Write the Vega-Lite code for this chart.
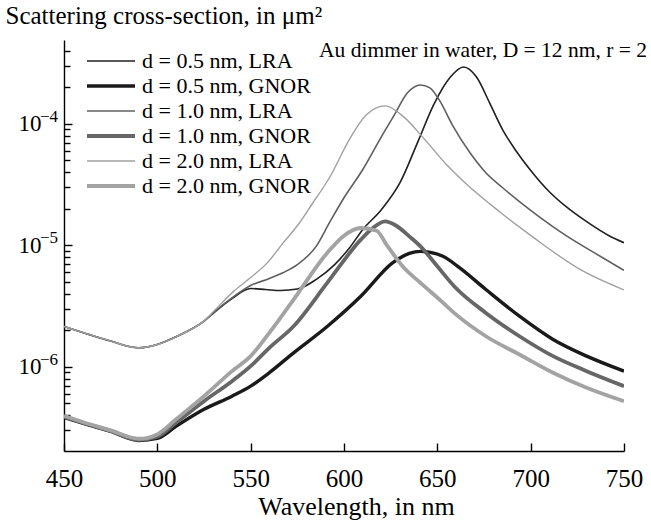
{
  "$schema": "https://vega.github.io/schema/vega-lite/v6.json",
  "width": 560,
  "height": 411,
  "autosize": {"type": "none"},
  "padding": {"left": 64, "top": 40, "right": 27, "bottom": 69},
  "background": "white",
  "config": {
    "view": {"stroke": null},
    "font": "Liberation Serif",
    "axis": {"grid": false, "domainColor": "black", "domainWidth": 1.4, "tickColor": "black", "tickWidth": 1.4, "labelColor": "black", "titleColor": "black", "labelFont": "Liberation Serif", "titleFont": "Liberation Serif", "titleFontWeight": "normal", "labelOverlap": false, "labelFlush": false}
  },
  "datasets": {
    "curves": [
      {"series": "d = 0.5 nm, LRA", "wl": 450, "sigma": 2.15e-6},
      {"series": "d = 0.5 nm, LRA", "wl": 460, "sigma": 1.92e-6},
      {"series": "d = 0.5 nm, LRA", "wl": 475, "sigma": 1.63e-6},
      {"series": "d = 0.5 nm, LRA", "wl": 490, "sigma": 1.435e-6},
      {"series": "d = 0.5 nm, LRA", "wl": 500, "sigma": 1.528e-6},
      {"series": "d = 0.5 nm, LRA", "wl": 510, "sigma": 1.767e-6},
      {"series": "d = 0.5 nm, LRA", "wl": 525, "sigma": 2.376e-6},
      {"series": "d = 0.5 nm, LRA", "wl": 531, "sigma": 2.85e-6},
      {"series": "d = 0.5 nm, LRA", "wl": 540, "sigma": 3.65e-6},
      {"series": "d = 0.5 nm, LRA", "wl": 550, "sigma": 4.41e-6},
      {"series": "d = 0.5 nm, LRA", "wl": 558, "sigma": 4.33e-6},
      {"series": "d = 0.5 nm, LRA", "wl": 566, "sigma": 4.25e-6},
      {"series": "d = 0.5 nm, LRA", "wl": 575, "sigma": 4.37e-6},
      {"series": "d = 0.5 nm, LRA", "wl": 585, "sigma": 5.23e-6},
      {"series": "d = 0.5 nm, LRA", "wl": 595, "sigma": 6.94e-6},
      {"series": "d = 0.5 nm, LRA", "wl": 603, "sigma": 9.57e-6},
      {"series": "d = 0.5 nm, LRA", "wl": 610, "sigma": 1.346e-5},
      {"series": "d = 0.5 nm, LRA", "wl": 620, "sigma": 1.965e-5},
      {"series": "d = 0.5 nm, LRA", "wl": 630, "sigma": 3.28e-5},
      {"series": "d = 0.5 nm, LRA", "wl": 640, "sigma": 7.39e-5},
      {"series": "d = 0.5 nm, LRA", "wl": 648, "sigma": 1.432e-4},
      {"series": "d = 0.5 nm, LRA", "wl": 657, "sigma": 2.43e-4},
      {"series": "d = 0.5 nm, LRA", "wl": 664, "sigma": 2.94e-4},
      {"series": "d = 0.5 nm, LRA", "wl": 671, "sigma": 2.43e-4},
      {"series": "d = 0.5 nm, LRA", "wl": 678, "sigma": 1.488e-4},
      {"series": "d = 0.5 nm, LRA", "wl": 685, "sigma": 8.93e-5},
      {"series": "d = 0.5 nm, LRA", "wl": 692.5, "sigma": 5.89e-5},
      {"series": "d = 0.5 nm, LRA", "wl": 701, "sigma": 3.96e-5},
      {"series": "d = 0.5 nm, LRA", "wl": 710, "sigma": 2.76e-5},
      {"series": "d = 0.5 nm, LRA", "wl": 719, "sigma": 2.08e-5},
      {"series": "d = 0.5 nm, LRA", "wl": 730, "sigma": 1.566e-5},
      {"series": "d = 0.5 nm, LRA", "wl": 742, "sigma": 1.2e-5},
      {"series": "d = 0.5 nm, LRA", "wl": 750, "sigma": 1.052e-5},

      {"series": "d = 0.5 nm, GNOR", "wl": 450, "sigma": 3.84e-7},
      {"series": "d = 0.5 nm, GNOR", "wl": 460, "sigma": 3.44e-7},
      {"series": "d = 0.5 nm, GNOR", "wl": 475, "sigma": 2.94e-7},
      {"series": "d = 0.5 nm, GNOR", "wl": 490, "sigma": 2.48e-7},
      {"series": "d = 0.5 nm, GNOR", "wl": 500, "sigma": 2.58e-7},
      {"series": "d = 0.5 nm, GNOR", "wl": 510, "sigma": 3.24e-7},
      {"series": "d = 0.5 nm, GNOR", "wl": 525, "sigma": 4.47e-7},
      {"series": "d = 0.5 nm, GNOR", "wl": 540, "sigma": 5.74e-7},
      {"series": "d = 0.5 nm, GNOR", "wl": 550, "sigma": 6.94e-7},
      {"series": "d = 0.5 nm, GNOR", "wl": 560, "sigma": 8.95e-7},
      {"series": "d = 0.5 nm, GNOR", "wl": 573, "sigma": 1.305e-6},
      {"series": "d = 0.5 nm, GNOR", "wl": 591, "sigma": 2.15e-6},
      {"series": "d = 0.5 nm, GNOR", "wl": 609, "sigma": 3.81e-6},
      {"series": "d = 0.5 nm, GNOR", "wl": 626, "sigma": 7.17e-6},
      {"series": "d = 0.5 nm, GNOR", "wl": 635, "sigma": 8.6e-6},
      {"series": "d = 0.5 nm, GNOR", "wl": 641, "sigma": 8.93e-6},
      {"series": "d = 0.5 nm, GNOR", "wl": 653, "sigma": 8.13e-6},
      {"series": "d = 0.5 nm, GNOR", "wl": 662, "sigma": 6.52e-6},
      {"series": "d = 0.5 nm, GNOR", "wl": 676, "sigma": 4.33e-6},
      {"series": "d = 0.5 nm, GNOR", "wl": 694, "sigma": 2.61e-6},
      {"series": "d = 0.5 nm, GNOR", "wl": 712, "sigma": 1.68e-6},
      {"series": "d = 0.5 nm, GNOR", "wl": 730, "sigma": 1.225e-6},
      {"series": "d = 0.5 nm, GNOR", "wl": 750, "sigma": 9.22e-7},

      {"series": "d = 1.0 nm, LRA", "wl": 450, "sigma": 2.15e-6},
      {"series": "d = 1.0 nm, LRA", "wl": 460, "sigma": 1.92e-6},
      {"series": "d = 1.0 nm, LRA", "wl": 475, "sigma": 1.63e-6},
      {"series": "d = 1.0 nm, LRA", "wl": 490, "sigma": 1.435e-6},
      {"series": "d = 1.0 nm, LRA", "wl": 500, "sigma": 1.528e-6},
      {"series": "d = 1.0 nm, LRA", "wl": 510, "sigma": 1.767e-6},
      {"series": "d = 1.0 nm, LRA", "wl": 525, "sigma": 2.376e-6},
      {"series": "d = 1.0 nm, LRA", "wl": 531, "sigma": 2.87e-6},
      {"series": "d = 1.0 nm, LRA", "wl": 540, "sigma": 3.7e-6},
      {"series": "d = 1.0 nm, LRA", "wl": 550, "sigma": 4.67e-6},
      {"series": "d = 1.0 nm, LRA", "wl": 560, "sigma": 5.33e-6},
      {"series": "d = 1.0 nm, LRA", "wl": 567.5, "sigma": 5.97e-6},
      {"series": "d = 1.0 nm, LRA", "wl": 575, "sigma": 6.94e-6},
      {"series": "d = 1.0 nm, LRA", "wl": 585, "sigma": 9.76e-6},
      {"series": "d = 1.0 nm, LRA", "wl": 592.5, "sigma": 1.566e-5},
      {"series": "d = 1.0 nm, LRA", "wl": 600, "sigma": 2.466e-5},
      {"series": "d = 1.0 nm, LRA", "wl": 610, "sigma": 4.19e-5},
      {"series": "d = 1.0 nm, LRA", "wl": 620, "sigma": 7.82e-5},
      {"series": "d = 1.0 nm, LRA", "wl": 627, "sigma": 1.186e-4},
      {"series": "d = 1.0 nm, LRA", "wl": 634, "sigma": 1.8e-4},
      {"series": "d = 1.0 nm, LRA", "wl": 641, "sigma": 2.09e-4},
      {"series": "d = 1.0 nm, LRA", "wl": 646, "sigma": 1.977e-4},
      {"series": "d = 1.0 nm, LRA", "wl": 651, "sigma": 1.575e-4},
      {"series": "d = 1.0 nm, LRA", "wl": 658, "sigma": 9.81e-5},
      {"series": "d = 1.0 nm, LRA", "wl": 667.5, "sigma": 5.78e-5},
      {"series": "d = 1.0 nm, LRA", "wl": 676, "sigma": 3.96e-5},
      {"series": "d = 1.0 nm, LRA", "wl": 685, "sigma": 2.98e-5},
      {"series": "d = 1.0 nm, LRA", "wl": 694, "sigma": 2.29e-5},
      {"series": "d = 1.0 nm, LRA", "wl": 705, "sigma": 1.7e-5},
      {"series": "d = 1.0 nm, LRA", "wl": 719, "sigma": 1.202e-5},
      {"series": "d = 1.0 nm, LRA", "wl": 734, "sigma": 8.71e-6},
      {"series": "d = 1.0 nm, LRA", "wl": 750, "sigma": 6.23e-6},

      {"series": "d = 1.0 nm, GNOR", "wl": 450, "sigma": 3.88e-7},
      {"series": "d = 1.0 nm, GNOR", "wl": 460, "sigma": 3.47e-7},
      {"series": "d = 1.0 nm, GNOR", "wl": 475, "sigma": 2.97e-7},
      {"series": "d = 1.0 nm, GNOR", "wl": 490, "sigma": 2.51e-7},
      {"series": "d = 1.0 nm, GNOR", "wl": 500, "sigma": 2.66e-7},
      {"series": "d = 1.0 nm, GNOR", "wl": 510, "sigma": 3.47e-7},
      {"series": "d = 1.0 nm, GNOR", "wl": 525, "sigma": 5.22e-7},
      {"series": "d = 1.0 nm, GNOR", "wl": 540, "sigma": 7.63e-7},
      {"series": "d = 1.0 nm, GNOR", "wl": 550, "sigma": 1.014e-6},
      {"series": "d = 1.0 nm, GNOR", "wl": 560, "sigma": 1.435e-6},
      {"series": "d = 1.0 nm, GNOR", "wl": 573, "sigma": 2.16e-6},
      {"series": "d = 1.0 nm, GNOR", "wl": 591, "sigma": 4.91e-6},
      {"series": "d = 1.0 nm, GNOR", "wl": 609, "sigma": 1.114e-5},
      {"series": "d = 1.0 nm, GNOR", "wl": 615, "sigma": 1.37e-5},
      {"series": "d = 1.0 nm, GNOR", "wl": 622, "sigma": 1.574e-5},
      {"series": "d = 1.0 nm, GNOR", "wl": 628, "sigma": 1.45e-5},
      {"series": "d = 1.0 nm, GNOR", "wl": 635, "sigma": 1.186e-5},
      {"series": "d = 1.0 nm, GNOR", "wl": 641, "sigma": 9.82e-6},
      {"series": "d = 1.0 nm, GNOR", "wl": 650, "sigma": 6.72e-6},
      {"series": "d = 1.0 nm, GNOR", "wl": 659, "sigma": 4.61e-6},
      {"series": "d = 1.0 nm, GNOR", "wl": 676, "sigma": 2.78e-6},
      {"series": "d = 1.0 nm, GNOR", "wl": 694, "sigma": 1.787e-6},
      {"series": "d = 1.0 nm, GNOR", "wl": 712, "sigma": 1.225e-6},
      {"series": "d = 1.0 nm, GNOR", "wl": 730, "sigma": 9.22e-7},
      {"series": "d = 1.0 nm, GNOR", "wl": 750, "sigma": 6.94e-7},

      {"series": "d = 2.0 nm, LRA", "wl": 450, "sigma": 2.15e-6},
      {"series": "d = 2.0 nm, LRA", "wl": 460, "sigma": 1.92e-6},
      {"series": "d = 2.0 nm, LRA", "wl": 475, "sigma": 1.63e-6},
      {"series": "d = 2.0 nm, LRA", "wl": 490, "sigma": 1.435e-6},
      {"series": "d = 2.0 nm, LRA", "wl": 500, "sigma": 1.528e-6},
      {"series": "d = 2.0 nm, LRA", "wl": 510, "sigma": 1.767e-6},
      {"series": "d = 2.0 nm, LRA", "wl": 525, "sigma": 2.39e-6},
      {"series": "d = 2.0 nm, LRA", "wl": 531, "sigma": 2.95e-6},
      {"series": "d = 2.0 nm, LRA", "wl": 541, "sigma": 4.2e-6},
      {"series": "d = 2.0 nm, LRA", "wl": 550, "sigma": 5.43e-6},
      {"series": "d = 2.0 nm, LRA", "wl": 559, "sigma": 7.21e-6},
      {"series": "d = 2.0 nm, LRA", "wl": 567.5, "sigma": 1.052e-5},
      {"series": "d = 2.0 nm, LRA", "wl": 576, "sigma": 1.52e-5},
      {"series": "d = 2.0 nm, LRA", "wl": 583, "sigma": 2.2e-5},
      {"series": "d = 2.0 nm, LRA", "wl": 592.5, "sigma": 3.67e-5},
      {"series": "d = 2.0 nm, LRA", "wl": 603, "sigma": 7.5e-5},
      {"series": "d = 2.0 nm, LRA", "wl": 612, "sigma": 1.186e-4},
      {"series": "d = 2.0 nm, LRA", "wl": 622, "sigma": 1.406e-4},
      {"series": "d = 2.0 nm, LRA", "wl": 632, "sigma": 1.141e-4},
      {"series": "d = 2.0 nm, LRA", "wl": 642.5, "sigma": 7.67e-5},
      {"series": "d = 2.0 nm, LRA", "wl": 655, "sigma": 4.6e-5},
      {"series": "d = 2.0 nm, LRA", "wl": 666, "sigma": 3.15e-5},
      {"series": "d = 2.0 nm, LRA", "wl": 684, "sigma": 1.857e-5},
      {"series": "d = 2.0 nm, LRA", "wl": 698, "sigma": 1.272e-5},
      {"series": "d = 2.0 nm, LRA", "wl": 705, "sigma": 1.06e-5},
      {"series": "d = 2.0 nm, LRA", "wl": 726, "sigma": 6.4e-6},
      {"series": "d = 2.0 nm, LRA", "wl": 750, "sigma": 4.3e-6},

      {"series": "d = 2.0 nm, GNOR", "wl": 450, "sigma": 3.95e-7},
      {"series": "d = 2.0 nm, GNOR", "wl": 460, "sigma": 3.52e-7},
      {"series": "d = 2.0 nm, GNOR", "wl": 475, "sigma": 3.0e-7},
      {"series": "d = 2.0 nm, GNOR", "wl": 490, "sigma": 2.56e-7},
      {"series": "d = 2.0 nm, GNOR", "wl": 500, "sigma": 2.78e-7},
      {"series": "d = 2.0 nm, GNOR", "wl": 510, "sigma": 3.7e-7},
      {"series": "d = 2.0 nm, GNOR", "wl": 525, "sigma": 5.74e-7},
      {"series": "d = 2.0 nm, GNOR", "wl": 540, "sigma": 9.22e-7},
      {"series": "d = 2.0 nm, GNOR", "wl": 550, "sigma": 1.225e-6},
      {"series": "d = 2.0 nm, GNOR", "wl": 560, "sigma": 1.905e-6},
      {"series": "d = 2.0 nm, GNOR", "wl": 573, "sigma": 3.58e-6},
      {"series": "d = 2.0 nm, GNOR", "wl": 591, "sigma": 8.66e-6},
      {"series": "d = 2.0 nm, GNOR", "wl": 600, "sigma": 1.202e-5},
      {"series": "d = 2.0 nm, GNOR", "wl": 609, "sigma": 1.39e-5},
      {"series": "d = 2.0 nm, GNOR", "wl": 617.5, "sigma": 1.32e-5},
      {"series": "d = 2.0 nm, GNOR", "wl": 623, "sigma": 1.0e-5},
      {"series": "d = 2.0 nm, GNOR", "wl": 632, "sigma": 6.56e-6},
      {"series": "d = 2.0 nm, GNOR", "wl": 641, "sigma": 4.91e-6},
      {"series": "d = 2.0 nm, GNOR", "wl": 653, "sigma": 3.38e-6},
      {"series": "d = 2.0 nm, GNOR", "wl": 659, "sigma": 2.78e-6},
      {"series": "d = 2.0 nm, GNOR", "wl": 676, "sigma": 1.787e-6},
      {"series": "d = 2.0 nm, GNOR", "wl": 694, "sigma": 1.264e-6},
      {"series": "d = 2.0 nm, GNOR", "wl": 712, "sigma": 8.95e-7},
      {"series": "d = 2.0 nm, GNOR", "wl": 730, "sigma": 6.73e-7},
      {"series": "d = 2.0 nm, GNOR", "wl": 750, "sigma": 5.22e-7}
    ],
    "decades": [
      {"sigma": 1e-4, "exponent": "−4"},
      {"sigma": 1e-5, "exponent": "−5"},
      {"sigma": 1e-6, "exponent": "−6"}
    ]
  },
  "layer": [
    {
      "data": {"name": "curves"},
      "mark": {"type": "line", "interpolate": "monotone", "clip": true},
      "encoding": {
        "x": {
          "field": "wl", "type": "quantitative",
          "scale": {"domain": [450, 750], "nice": false, "zero": false},
          "axis": {"values": [450, 500, 550, 600, 650, 700, 750], "format": "d", "tickSize": -8, "labelFontSize": 25, "labelPadding": 23, "title": "Wavelength, in nm", "titleFontSize": 26, "titlePadding": 2, "titleX": 292, "titleAlign": "center"}
        },
        "y": {
          "field": "sigma", "type": "quantitative",
          "scale": {"type": "log", "domain": [2.03e-7, 4.9e-4], "nice": false},
          "axis": {
            "values": [3e-7, 4e-7, 5e-7, 6e-7, 7e-7, 8e-7, 9e-7, 1e-6, 2e-6, 3e-6, 4e-6, 5e-6, 6e-6, 7e-6, 8e-6, 9e-6, 1e-5, 2e-5, 3e-5, 4e-5, 5e-5, 6e-5, 7e-5, 8e-5, 9e-5, 1e-4, 2e-4, 3e-4, 4e-4],
            "labelExpr": "abs(log(datum.value)/LN10 - round(log(datum.value)/LN10)) < 0.001 ? '10' : ''",
            "tickSize": {"condition": {"test": "abs(log(datum.value)/LN10 - round(log(datum.value)/LN10)) < 0.001", "value": -8}, "value": -6},
            "labelFontSize": 23, "labelPadding": 31, "labelBaseline": "middle", "labelAlign": "right",
            "title": "Scattering cross-section, in μm²", "titleFontSize": 25, "titleAngle": 0, "titleAlign": "left", "titleBaseline": "alphabetic", "titleX": -59, "titleY": -17
          }
        },
        "color": {
          "field": "series", "type": "nominal",
          "scale": {"domain": ["d = 0.5 nm, LRA", "d = 0.5 nm, GNOR", "d = 1.0 nm, LRA", "d = 1.0 nm, GNOR", "d = 2.0 nm, LRA", "d = 2.0 nm, GNOR"], "range": ["#202020", "#1a1a1a", "#5f5f5f", "#666666", "#a0a0a0", "#a3a3a3"]},
          "legend": {"title": null, "orient": "none", "legendX": 36, "legendY": 10, "symbolType": "M-4,0H4", "symbolSize": 144, "labelFont": "Liberation Serif", "labelFontSize": 22, "labelColor": "black", "labelLimit": 400, "rowPadding": 3, "labelOffset": 20, "padding": 0}
        },
        "strokeWidth": {
          "field": "series", "type": "nominal",
          "scale": {"type": "ordinal", "domain": ["d = 0.5 nm, LRA", "d = 0.5 nm, GNOR", "d = 1.0 nm, LRA", "d = 1.0 nm, GNOR", "d = 2.0 nm, LRA", "d = 2.0 nm, GNOR"], "range": [1.6, 3.4, 1.6, 3.8, 1.4, 3.8]},
          "legend": {"title": null, "orient": "none", "legendX": 36, "legendY": 10, "symbolType": "M-4,0H4", "symbolSize": 144, "labelFont": "Liberation Serif", "labelFontSize": 22, "labelColor": "black", "labelLimit": 400, "rowPadding": 3, "labelOffset": 20, "padding": 0}
        }
      }
    },
    {
      "data": {"name": "decades"},
      "mark": {"type": "text", "align": "right", "baseline": "middle", "dx": -6, "dy": -7, "font": "Liberation Serif", "fontSize": 17, "color": "black"},
      "encoding": {
        "x": {"datum": 450},
        "y": {"field": "sigma", "type": "quantitative"},
        "text": {"field": "exponent", "type": "nominal"}
      }
    },
    {
      "data": {"values": [{}]},
      "mark": {"type": "text", "align": "right", "baseline": "alphabetic", "dx": 23, "font": "Liberation Serif", "fontSize": 21.5, "color": "black"},
      "encoding": {
        "x": {"datum": 750},
        "y": {"datum": 3.55e-4},
        "text": {"value": "Au dimmer in water, D = 12 nm, r = 2"}
      }
    }
  ]
}
